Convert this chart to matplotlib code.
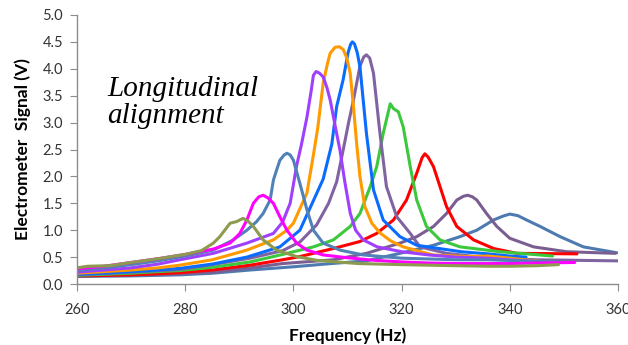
import matplotlib
matplotlib.use("Agg")
import matplotlib.pyplot as plt

# ---- data (frequency in Hz, signal in V) ----
f1 = [260, 262, 266, 270, 275, 280, 283, 285.2, 286.4, 288.3, 289.5, 290.7, 291.6, 292.6, 294.4, 296.9, 300.6, 304.3, 308, 312, 316, 320, 325, 330, 336, 340, 345, 349]
v1 = [0.30, 0.33, 0.34, 0.40, 0.47, 0.55, 0.62, 0.76, 0.88, 1.13, 1.16, 1.22, 1.17, 1.07, 0.82, 0.63, 0.51, 0.44, 0.41, 0.38, 0.37, 0.36, 0.35, 0.34, 0.33, 0.33, 0.34, 0.36]

f2 = [260, 265, 270, 275, 280, 285.2, 288.3, 290.1, 291.4, 292.6, 293.6, 294.4, 295.3, 296.3, 297.5, 298.8, 300.6, 302.5, 305.5, 309.8, 315, 320, 325, 330, 336, 340, 345, 352]
v2 = [0.28, 0.33, 0.40, 0.47, 0.55, 0.65, 0.76, 0.94, 1.19, 1.50, 1.62, 1.65, 1.60, 1.50, 1.25, 1.00, 0.76, 0.63, 0.54, 0.49, 0.44, 0.41, 0.39, 0.38, 0.38, 0.38, 0.39, 0.40]

f3 = [260, 265, 270, 275, 280, 285.2, 288.9, 291.4, 293.2, 294.4, 295.7, 296.3, 296.9, 297.5, 298.3, 298.8, 299.4, 300.0, 301.2, 302.5, 303.7, 305.5, 308.6, 312.9, 320, 330, 336, 345, 350]
v3 = [0.25, 0.30, 0.36, 0.43, 0.52, 0.63, 0.82, 1.00, 1.16, 1.31, 1.56, 1.93, 2.12, 2.30, 2.40, 2.43, 2.40, 2.30, 1.87, 1.38, 1.00, 0.76, 0.63, 0.54, 0.48, 0.45, 0.45, 0.42, 0.40]

f4 = [260, 265, 270, 275, 279, 285.2, 291.4, 296.3, 298, 299.4, 300.6, 301.5, 302.5, 303.3, 303.7, 304.2, 304.8, 305.5, 306.2, 306.8, 307.7, 308.6, 309.5, 310.5, 311.5, 312.9, 315.5, 320, 325, 330, 336, 340, 345]
v4 = [0.22, 0.26, 0.30, 0.37, 0.45, 0.57, 0.76, 0.94, 1.15, 1.50, 2.20, 2.60, 3.10, 3.60, 3.88, 3.95, 3.92, 3.85, 3.65, 3.42, 2.95, 2.49, 1.90, 1.32, 1.00, 0.82, 0.69, 0.60, 0.54, 0.50, 0.48, 0.45, 0.42]

f5 = [260, 265, 270, 275, 279, 285, 291.4, 296.3, 298.8, 300, 301.2, 302.5, 303.7, 304.5, 305.5, 306.3, 306.8, 307.7, 308.5, 309.2, 309.8, 310.5, 311.1, 311.7, 312.3, 313.2, 314.5, 316, 318, 320.3, 325.8, 332, 336, 340, 345.6]
v5 = [0.20, 0.23, 0.26, 0.30, 0.35, 0.45, 0.63, 0.82, 1.00, 1.13, 1.40, 1.69, 2.40, 2.90, 3.73, 4.10, 4.29, 4.40, 4.41, 4.36, 4.22, 3.92, 3.30, 2.60, 2.00, 1.44, 1.13, 0.95, 0.80, 0.69, 0.54, 0.51, 0.52, 0.48, 0.42]

f6 = [260, 265, 270, 275, 279, 285, 291.4, 297.5, 301.2, 303.7, 305.5, 307.1, 308.0, 309.2, 310.1, 310.6, 310.9, 311.3, 311.8, 312.3, 313.5, 314.8, 316.6, 319.7, 322.8, 331, 336, 340, 343]
v6 = [0.18, 0.20, 0.23, 0.26, 0.29, 0.37, 0.50, 0.69, 1.00, 1.55, 1.95, 2.60, 3.30, 3.80, 4.30, 4.46, 4.50, 4.46, 4.30, 4.04, 2.80, 1.75, 1.19, 0.88, 0.72, 0.60, 0.56, 0.52, 0.50]

f7 = [260, 270, 279, 285, 292, 298, 301.2, 304.3, 306.5, 308, 309.2, 310.2, 311.1, 312.3, 313.0, 313.5, 314.1, 314.8, 316, 317.2, 319.1, 321.6, 323.4, 328.3, 336.3, 345, 360]
v7 = [0.17, 0.22, 0.27, 0.36, 0.48, 0.62, 0.78, 1.10, 1.50, 1.90, 2.49, 3.00, 3.42, 4.05, 4.22, 4.26, 4.20, 3.92, 2.80, 1.81, 1.25, 0.94, 0.69, 0.57, 0.48, 0.45, 0.43]

f8 = [260, 265, 270, 275, 279, 285, 292, 298, 303.7, 307.4, 310.5, 312.3, 314.2, 315.4, 316.6, 317.9, 318.5, 319.4, 320.3, 321.6, 322.8, 324.6, 327.1, 330.8, 338.2, 347.9]
v8 = [0.16, 0.18, 0.20, 0.23, 0.25, 0.31, 0.41, 0.55, 0.69, 0.82, 1.07, 1.31, 1.81, 2.18, 2.80, 3.35, 3.26, 3.20, 2.92, 2.18, 1.56, 1.07, 0.82, 0.69, 0.60, 0.52]

f9 = [260, 265, 270, 275, 279, 285, 292, 298, 301.2, 307.4, 312.3, 315.4, 318.5, 320.9, 322.8, 323.8, 324.3, 324.9, 325.9, 327.1, 328.3, 330.2, 333.3, 337, 341.3, 352.4]
v9 = [0.15, 0.16, 0.17, 0.19, 0.21, 0.26, 0.35, 0.45, 0.51, 0.66, 0.79, 0.94, 1.19, 1.56, 2.06, 2.35, 2.42, 2.36, 2.18, 1.81, 1.44, 1.07, 0.82, 0.66, 0.57, 0.56]

f10 = [260, 265, 270, 279, 285, 292, 298, 307.4, 313.5, 319.7, 322.8, 325.9, 328.3, 330.2, 331.4, 332.2, 333.1, 333.9, 335.7, 337.6, 340, 344.4, 350.5, 359.5]
v10 = [0.15, 0.16, 0.17, 0.19, 0.22, 0.30, 0.38, 0.45, 0.57, 0.76, 0.88, 1.07, 1.31, 1.56, 1.63, 1.65, 1.62, 1.56, 1.31, 1.07, 0.85, 0.69, 0.60, 0.57]

f11 = [260, 270, 279, 285, 292, 300, 307, 313.5, 319.7, 325.9, 330.8, 333.9, 337, 338.7, 340, 341.5, 343.1, 345.6, 349.3, 353.6, 359.8]
v11 = [0.14, 0.15, 0.17, 0.20, 0.26, 0.32, 0.38, 0.43, 0.57, 0.72, 0.88, 1.00, 1.19, 1.26, 1.30, 1.27, 1.19, 1.07, 0.88, 0.69, 0.58]

series = [(f11, v11), (f10, v10), (f9, v9), (f8, v8), (f7, v7), (f6, v6),
          (f5, v5), (f4, v4), (f3, v3), (f2, v2), (f1, v1)]
colors = ['#4E7BAF', '#7B5E91', '#FF0000', '#3CC83C', '#8064A2', '#0A6CFF',
          '#FF9A00', '#A040FF', '#5082B8', '#FF00FF', '#8C9B4E']

x_ticks = [260, 280, 300, 320, 340, 360]
y_ticks = [0.0, 0.5, 1.0, 1.5, 2.0, 2.5, 3.0, 3.5, 4.0, 4.5, 5.0]

fig = plt.figure(figsize=(6.28, 3.45), dpi=100)
ax = fig.add_axes([77/628, 61/345, 541/628, 269/345])

for (f, v), c in zip(series, colors):
    ax.plot(f, v, color=c, lw=2.2, solid_joinstyle='round', solid_capstyle='round')

ax.set_xlim(260, 360)
ax.set_ylim(0, 5.0)
ax.set_xticks(x_ticks)
ax.set_yticks(y_ticks)
ax.set_yticklabels([f"{t:.1f}" for t in y_ticks])
for s in ['top', 'right']:
    ax.spines[s].set_visible(False)
for s in ['left', 'bottom']:
    ax.spines[s].set_color('#8C8C8C')
    ax.spines[s].set_linewidth(1.0)
ax.tick_params(axis='both', direction='out', length=5, color='#8C8C8C',
               labelsize=10.5, labelcolor='#333333')
ax.tick_params(axis='y', pad=5)
ax.tick_params(axis='x', pad=9)
for lab in ax.get_xticklabels() + ax.get_yticklabels():
    lab.set_family('Lato')

ax.set_xlabel('Frequency (Hz)', fontsize=12.5, fontweight='bold', family='Lato', labelpad=7)
ax.set_ylabel('Electrometer  Signal (V)', fontsize=12.5, fontweight='bold', family='Lato', labelpad=8)

ax.text(107/628, (345-96)/345, 'Longitudinal', transform=fig.transFigure,
        fontsize=21, style='italic', family='Liberation Serif', va='baseline', ha='left')
ax.text(107/628, (345-123)/345, 'alignment', transform=fig.transFigure,
        fontsize=21, style='italic', family='Liberation Serif', va='baseline', ha='left')

fig.savefig('out.png', dpi=100)
